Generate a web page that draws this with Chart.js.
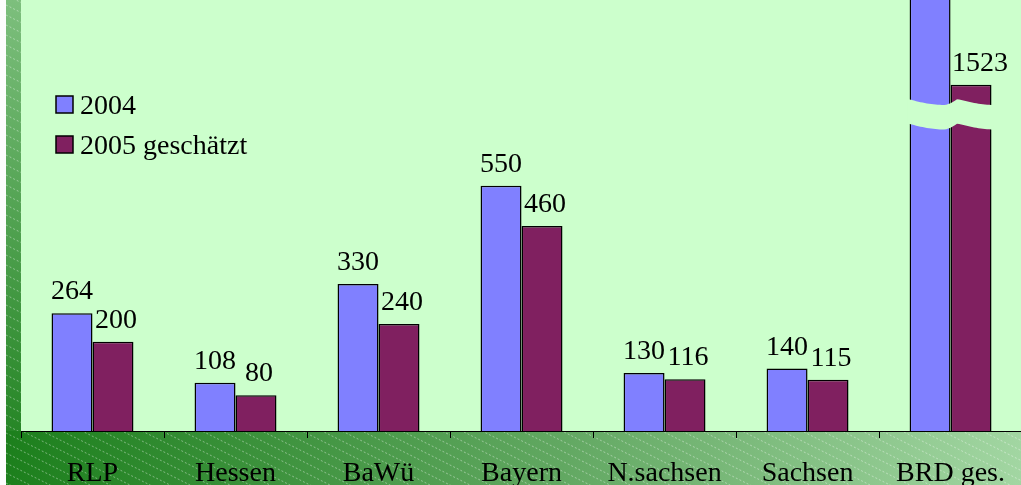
<!DOCTYPE html>
<html>
<head>
<meta charset="utf-8">
<script src="https://cdn.jsdelivr.net/npm/chart.js@4.4.1/dist/chart.umd.min.js"></script>
<style>
  html, body { margin: 0; padding: 0; background: #fff; overflow: hidden; }
  #wrap { width: 1021px; height: 485px; overflow: hidden; }
</style>
</head>
<body>
<div id="wrap"><canvas id="c" width="1024" height="485"></canvas></div>
<script>
// data
const categories = ['RLP', 'Hessen', 'BaWü', 'Bayern', 'N.sachsen', 'Sachsen', 'BRD ges.'];
const values2004 = [264, 108, 330, 550, 130, 140, 1900]; // BRD 2004 runs off the top, estimated
const values2005 = [200, 80, 240, 460, 116, 115, 1523];
const seriesNames = ['2004', '2005 geschätzt'];

// axis break for the last category
const brokenIndex = 6;
const breakShift = 746;   // value units removed by the break
const breakTop = 745;     // band edges in shown units
const breakBottom = 690;

const FONT = '"Liberation Serif", "Times New Roman", serif';
const FONT_SIZE = 28;
const BLUE = '#8080ff';
const MAROON = '#802060';
const PLOT_BG = '#ccffcc';

function shown(arr) {
    return arr.map((v, i) => i === brokenIndex ? v - breakShift : v);
}

function hatch(ctx, x, y, w, h) {
    ctx.save();
    ctx.beginPath();
    ctx.rect(x, y, w, h);
    ctx.clip();
    ctx.strokeStyle = 'rgba(255,255,255,0.4)';
    ctx.lineWidth = 1;
    ctx.setLineDash([2, 2]);
    for (let s = -w; s < h + w; s += 10) {
        ctx.beginPath();
        ctx.moveTo(x, y + s);
        ctx.lineTo(x + w, y + s + w * 0.5);
        ctx.stroke();
    }
    ctx.restore();
}

const backgroundPlugin = {
    id: 'bg',
    beforeDraw(chart) {
        const { ctx, chartArea, width, height } = chart;
        const vw = 1021;
        ctx.save();
        ctx.fillStyle = '#fdfdfd';
        ctx.fillRect(0, 0, width, height);
        // plot area
        ctx.fillStyle = PLOT_BG;
        ctx.fillRect(chartArea.left, 0, width - chartArea.left, chartArea.bottom);
        // left band
        let g = ctx.createLinearGradient(0, 0, 0, height);
        g.addColorStop(0, '#7dbf7d');
        g.addColorStop(1, '#1c7f1c');
        ctx.fillStyle = g;
        ctx.fillRect(6, 0, chartArea.left - 6, chartArea.bottom);
        hatch(ctx, 6, 0, chartArea.left - 6, chartArea.bottom);
        // bottom band
        g = ctx.createLinearGradient(6, 0, vw, 0);
        g.addColorStop(0, '#1c7f1c');
        g.addColorStop(0.55, '#62a862');
        g.addColorStop(1, '#a2d6a2');
        ctx.fillStyle = g;
        ctx.fillRect(6, chartArea.bottom, width - 6, height - chartArea.bottom);
        hatch(ctx, 6, chartArea.bottom, width - 6, height - chartArea.bottom);
        ctx.restore();
    }
};

const labelsPlugin = {
    id: 'valueLabels',
    afterDatasetsDraw(chart) {
        const { ctx, scales } = chart;
        const realValues = [values2004, values2005];
        ctx.save();
        // break band across the last pair of bars
        const b0 = chart.getDatasetMeta(0).data[brokenIndex];
        const b1 = chart.getDatasetMeta(1).data[brokenIndex];
        const x0 = b0.x - b0.width / 2 - 2;
        const x1 = b1.x + b1.width / 2 + 2;
        const yT = scales.y.getPixelForValue(breakTop);
        const yB = scales.y.getPixelForValue(breakBottom);
        const w = x1 - x0;
        const wave = t => {
            // slow dip, quick rise, slow dip
            if (t < 0.42) return 6 * Math.sin(t / 0.42 * Math.PI / 2);
            if (t < 0.58) return 6 * Math.cos((t - 0.42) / 0.16 * Math.PI / 2);
            return 6 * Math.sin((t - 0.58) / 0.42 * Math.PI / 2);
        };
        ctx.beginPath();
        for (let i = 0; i <= 40; i++) {
            const t = i / 40;
            const px = x0 + t * w;
            const py = yT + wave(t);
            i === 0 ? ctx.moveTo(px, py) : ctx.lineTo(px, py);
        }
        for (let i = 40; i >= 0; i--) {
            const t = i / 40;
            ctx.lineTo(x0 + t * w, yB + wave(t));
        }
        ctx.closePath();
        ctx.fillStyle = PLOT_BG;
        ctx.fill();

        // value labels
        ctx.font = FONT_SIZE + 'px ' + FONT;
        ctx.fillStyle = '#000';
        ctx.textAlign = 'center';
        ctx.textBaseline = 'alphabetic';
        chart.data.datasets.forEach((ds, di) => {
            chart.getDatasetMeta(di).data.forEach((bar, i) => {
                const y = bar.y - 14;
                if (y < 25) return;
                let dx = di === 1 ? 3 : 0;
                if (di === 1 && i === brokenIndex) dx = 9;
                ctx.fillText(String(realValues[di][i]), bar.x + dx, y);
            });
        });

        // legend
        const items = [[BLUE, seriesNames[0], 96], [MAROON, seriesNames[1], 136]];
        ctx.textAlign = 'left';
        items.forEach(([col, txt, y]) => {
            ctx.fillStyle = col;
            ctx.fillRect(56, y, 17, 17);
            ctx.strokeStyle = '#000';
            ctx.lineWidth = 1.5;
            ctx.strokeRect(56, y, 17, 17);
            ctx.fillStyle = '#000';
            ctx.fillText(txt, 80, y + 18);
        });
        ctx.restore();
    }
};

new Chart(document.getElementById('c'), {
    type: 'bar',
    data: {
        labels: categories,
        datasets: [
            {
                label: seriesNames[0],
                data: shown(values2004),
                backgroundColor: BLUE,
                borderColor: '#000',
                borderWidth: 1.5
            },
            {
                label: seriesNames[1],
                data: shown(values2005),
                backgroundColor: MAROON,
                borderColor: '#000',
                borderWidth: 1.5
            }
        ]
    },
    options: {
        responsive: false,
        animation: false,
        layout: { padding: { left: 21, top: 0, right: 0, bottom: 0 } },
        datasets: {
            bar: { categoryPercentage: 0.573, barPercentage: 1 }
        },
        plugins: {
            legend: { display: false },
            tooltip: { enabled: false }
        },
        scales: {
            x: {
                offset: true,
                afterFit(scale) { scale.height = 54; },
                grid: {
                    offset: true,
                    drawOnChartArea: false,
                    drawTicks: true,
                    tickLength: 7,
                    color: '#000'
                },
                border: { color: '#000', width: 1 },
                ticks: {
                    color: '#000',
                    padding: 19,
                    maxRotation: 0,
                    minRotation: 0,
                    autoSkip: false,
                    font: { family: FONT, size: FONT_SIZE }
                }
            },
            y: {
                display: false,
                min: 0,
                max: 967
            }
        }
    },
    plugins: [backgroundPlugin, labelsPlugin]
});
</script>
</body>
</html>
